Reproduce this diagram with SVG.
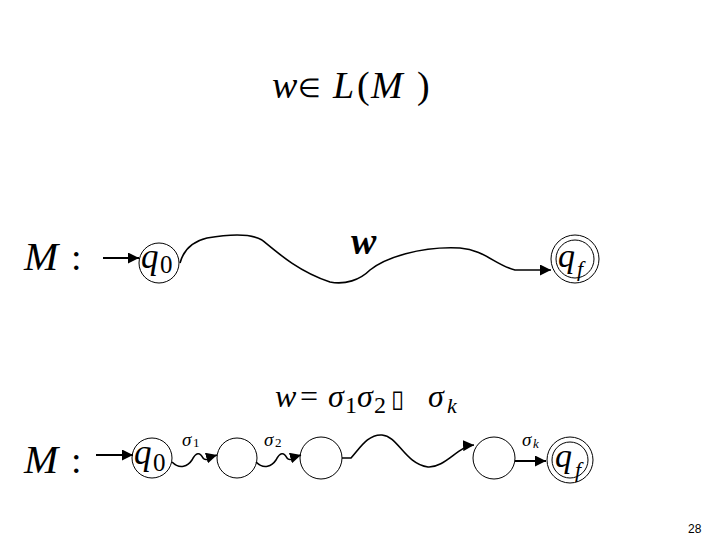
<svg xmlns="http://www.w3.org/2000/svg" width="720" height="540" viewBox="0 0 720 540">
<style>
.m{font-family:"Liberation Serif","Times New Roman",serif;font-style:italic;fill:#000}
.u{font-family:"Liberation Serif","Times New Roman",serif;font-style:normal;fill:#000}
.c{fill:none;stroke:#000;stroke-width:1}
.w{fill:none;stroke:#000;stroke-width:1.6}
.s{fill:none;stroke:#000;stroke-width:2}
</style>
<defs>
<marker id="ahb" viewBox="0 0 10 10" refX="10" refY="5" markerWidth="11" markerHeight="11" markerUnits="userSpaceOnUse" orient="auto"><path d="M0,0L10,5L0,10z" fill="#000"/></marker>
</defs>
<rect width="720" height="540" fill="#fff"/>
<g id="title">
<text class="m" x="272" y="98" font-size="38">w</text>
<text class="u" x="298" y="97" font-size="26">∈</text>
<text class="m" x="333" y="98" font-size="38">L</text>
<text class="u" x="357" y="98" font-size="38">(</text>
<text class="m" x="371" y="98" font-size="38">M</text>
<text class="u" x="417" y="98" font-size="38">)</text>
</g>
<g id="top">
<text class="m" x="24" y="270" font-size="41">M</text>
<text class="u" x="71" y="270" font-size="38">:</text>
<g id="q0a"><circle class="c" cx="159" cy="263" r="20"/><text class="m" x="141" y="268" font-size="35">q</text><text class="u" x="160" y="273" font-size="25">0</text></g>
<g id="qfa"><circle class="c" cx="575" cy="259" r="24"/><circle class="c" cx="575" cy="259" r="19"/><text class="m" x="558" y="267" font-size="34">q</text><text class="m" x="577" y="276" font-size="22">f</text></g>
<text class="m" x="351" y="254" font-size="38" font-weight="bold">w</text>
</g>
<g id="connectors">
<line class="s" x1="103" y1="258" x2="139" y2="258" marker-end="url(#ahb)"/>
<path class="w" d="M180,263 C183,252 190,242 207,238 C230,234 250,233 262,240 C280,255 300,272 330,282 C345,285 360,280 370,270 C385,258 420,246 460,248 C485,250 495,265 515,270 L551,270" marker-end="url(#ahb)"/>
<line class="s" x1="96" y1="455" x2="133" y2="455" marker-end="url(#ahb)"/>
<path class="w" d="M172,462 C180,470 188,466 192,460 C196,452 200,452 203,458 C206,462 210,457 217,455" marker-end="url(#ahb)"/>
<path class="w" d="M256,462 C264,470 272,466 276,460 C280,452 284,452 287,458 C290,462 294,457 301,455" marker-end="url(#ahb)"/>
<path class="w" d="M342,458 L351,458 C360,448 368,434 382,435 C398,436 405,464 428,467 C445,468 458,446 474,445" marker-end="url(#ahb)"/>
<line class="s" x1="515" y1="461" x2="546" y2="461" marker-end="url(#ahb)"/>
</g>
<g id="formula">
<text class="m" x="275" y="407" font-size="32">w</text>
<text class="u" x="300" y="407" font-size="32">=</text>
<text class="m" x="328" y="407" font-size="32">σ</text>
<text class="u" x="345" y="413" font-size="24">1</text>
<text class="m" x="357" y="407" font-size="32">σ</text>
<text class="u" x="374" y="413" font-size="24">2</text>
<text class="u" x="391" y="407" font-size="24">▯</text>
<text class="m" x="428" y="407" font-size="32">σ</text>
<text class="m" x="447" y="413" font-size="22">k</text>
</g>
<g id="bottom">
<text class="m" x="24" y="473" font-size="41">M</text>
<text class="u" x="71" y="473" font-size="38">:</text>
<g id="q0b"><circle class="c" cx="152" cy="458" r="20"/><text class="m" x="134" y="464" font-size="35">q</text><text class="u" x="153" y="471" font-size="25">0</text></g>
<g id="n1"><circle class="c" cx="237" cy="458" r="20"/></g>
<g id="n2"><circle class="c" cx="321" cy="458" r="21"/></g>
<g id="n3"><circle class="c" cx="494" cy="458" r="21"/></g>
<g id="qfb"><circle class="c" cx="570" cy="460" r="23"/><circle class="c" cx="570" cy="460" r="18"/><text class="m" x="555" y="467" font-size="34">q</text><text class="m" x="575" y="477" font-size="22">f</text></g>
<text class="m" x="182" y="446" font-size="19">σ</text><text class="u" x="193" y="447" font-size="13">1</text>
<text class="m" x="264" y="446" font-size="19">σ</text><text class="u" x="275" y="447" font-size="13">2</text>
<text class="m" x="522" y="446" font-size="19">σ</text><text class="m" x="533" y="448" font-size="13">k</text>
</g>
<text x="688" y="533" font-family="Liberation Sans, Arial, sans-serif" font-size="12">28</text>
</svg>
